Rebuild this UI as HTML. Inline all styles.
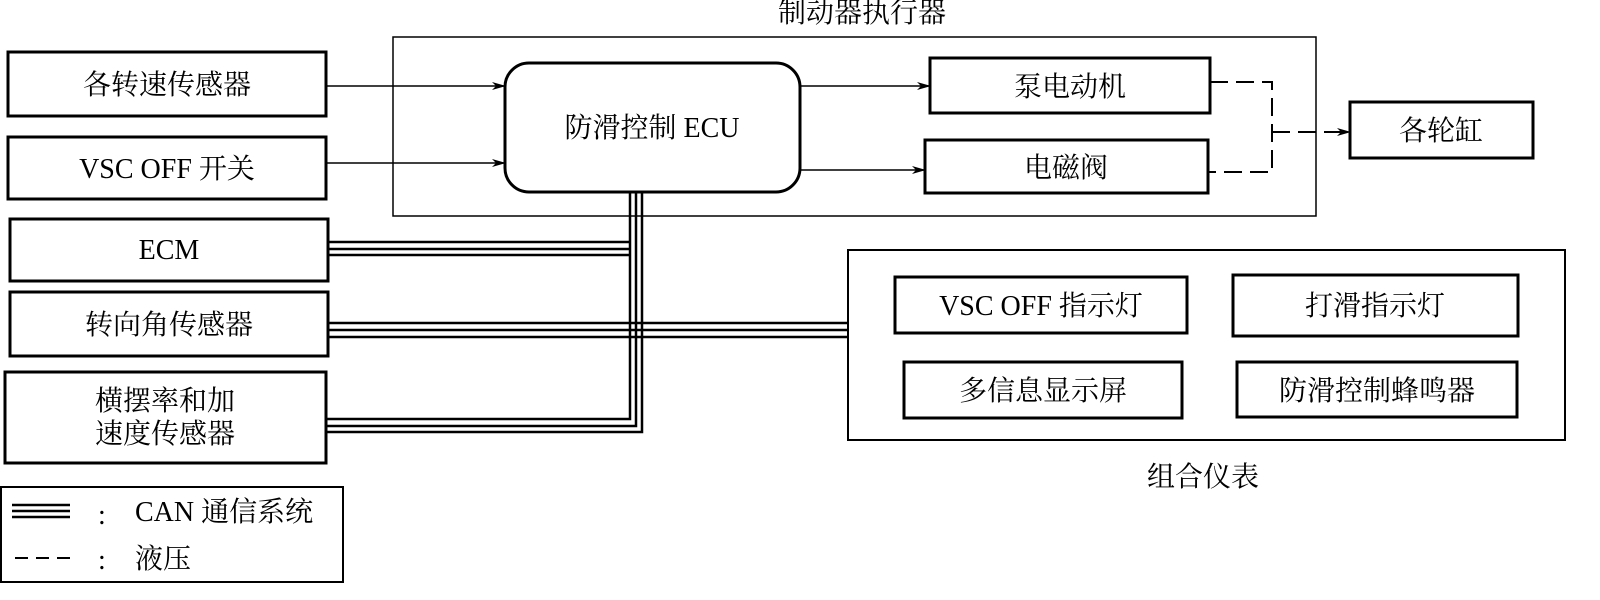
<!DOCTYPE html>
<html><head><meta charset="utf-8"><style>
body{margin:0;background:#fff;}
svg text{font-family:"Liberation Serif","Noto Serif CJK SC","Noto Sans CJK SC",serif;font-size:28px;fill:#000;}
</style></head><body>
<svg width="1600" height="595" viewBox="0 0 1600 595" xmlns="http://www.w3.org/2000/svg">
<defs><marker id="ar" markerWidth="14" markerHeight="8" refX="13" refY="4" orient="auto" markerUnits="userSpaceOnUse"><path d="M0,0 L14,4 L0,8 L4,4 Z" fill="#000"/></marker></defs>
<g fill="none" stroke="#000">
<rect x="393" y="37" width="923" height="179" stroke-width="1.5"/>
<g stroke-width="3">
<rect x="8" y="52" width="318" height="64"/>
<rect x="8" y="137" width="318" height="62"/>
<rect x="10" y="219" width="318" height="62"/>
<rect x="10" y="292" width="318" height="64"/>
<rect x="5" y="372" width="321" height="91"/>
<rect x="505" y="63" width="295" height="129" rx="24"/>
<rect x="930" y="58" width="280" height="55"/>
<rect x="925" y="140" width="283" height="53"/>
<rect x="1350" y="102" width="183" height="56"/>
<rect x="848" y="250" width="717" height="190" stroke-width="2"/>
<rect x="895" y="277" width="292" height="56"/>
<rect x="1233" y="275" width="285" height="61"/>
<rect x="904" y="362" width="278" height="56"/>
<rect x="1237" y="362" width="280" height="55"/>
</g>
<rect x="1" y="487" width="342" height="95" stroke-width="2"/>
<g stroke-width="1.5">
<line x1="326" y1="86" x2="505" y2="86" marker-end="url(#ar)"/>
<line x1="326" y1="163" x2="505" y2="163" marker-end="url(#ar)"/>
<line x1="800" y1="86" x2="930" y2="86" marker-end="url(#ar)"/>
<line x1="800" y1="170" x2="925" y2="170" marker-end="url(#ar)"/>
</g>
<g stroke-width="2" stroke-dasharray="18,8">
<polyline points="1210,82 1272,82 1272,172 1208,172"/>
<line x1="1272" y1="132" x2="1350" y2="132" marker-end="url(#ar)"/>
</g>
<g stroke-width="2.5">
<line x1="328" y1="242" x2="630" y2="242"/><line x1="328" y1="249" x2="630" y2="249"/><line x1="328" y1="255" x2="630" y2="255"/>
<line x1="328" y1="323" x2="848" y2="323"/><line x1="328" y1="330" x2="848" y2="330"/><line x1="328" y1="337" x2="848" y2="337"/>
<polyline points="326,419 630,419 630,192"/>
<polyline points="326,426 636,426 636,192"/>
<polyline points="326,432 642,432 642,192"/>
<line x1="12" y1="505" x2="70" y2="505"/><line x1="12" y1="511" x2="70" y2="511"/><line x1="12" y1="517" x2="70" y2="517"/>
</g>
<line x1="15" y1="558" x2="72" y2="558" stroke-width="2" stroke-dasharray="13,8"/>
</g>
<g text-anchor="middle">
<text x="862" y="22">制动器执行器</text>
<text x="167" y="94">各转速传感器</text>
<text x="167" y="178">VSC OFF 开关</text>
<text x="169" y="259">ECM</text>
<text x="169" y="334">转向角传感器</text>
<text x="165" y="410">横摆率和加</text>
<text x="165" y="443">速度传感器</text>
<text x="652" y="137">防滑控制 ECU</text>
<text x="1070" y="96">泵电动机</text>
<text x="1066" y="177">电磁阀</text>
<text x="1441" y="140">各轮缸</text>
<text x="1041" y="315">VSC OFF 指示灯</text>
<text x="1375" y="315">打滑指示灯</text>
<text x="1043" y="400">多信息显示屏</text>
<text x="1377" y="400">防滑控制蜂鸣器</text>
<text x="1203" y="486">组合仪表</text>
</g>
<text x="98" y="524">:</text>
<text x="135" y="521">CAN 通信系统</text>
<text x="98" y="569">:</text>
<text x="135" y="568">液压</text>
</svg>
</body></html>
